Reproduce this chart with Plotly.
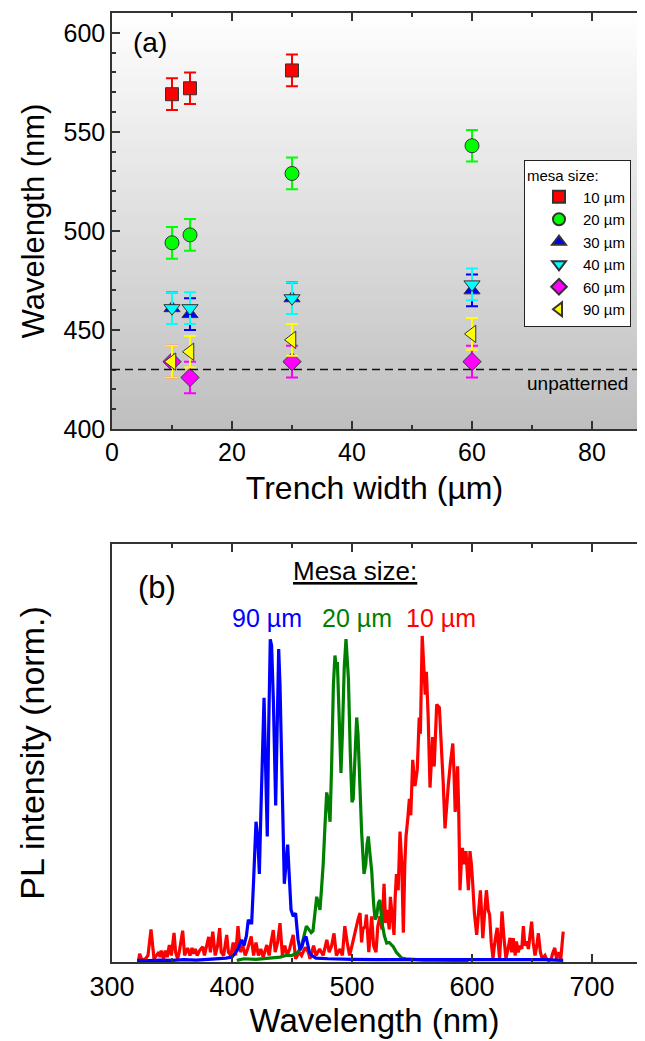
import plotly.graph_objects as go

# The page body has an 8px margin and the figure is fitted to the body width (645 - 16).
OFF = 8
W, H = 645 - 2 * OFF, 1041 - OFF

# ---------------- Panel (a) data ----------------
trench_width = [10, 13, 30, 60]
mesa_labels = ["10 µm", "20 µm", "30 µm", "40 µm", "60 µm", "90 µm"]
wl_10 = [569, 572, 581]
tw_10 = [10, 13, 30]
wl_20 = [494, 498, 529, 543]
wl_30 = [461, 458, 466, 470]
wl_40 = [461, 461, 466, 473]
wl_60 = [434, 426, 434, 434]
wl_90 = [434, 439, 445, 448]
err_a = 8
unpatterned = 430

# ---------------- Panel (b) data ----------------
red_wl = [322, 323, 325, 328, 330, 332.5, 335, 337, 339, 340, 341, 343, 344.4, 346, 347.8, 349.5, 351.7, 353, 354.7, 356,
          358.9, 360.5, 363, 365, 366.7, 368, 369.4, 371, 373, 375.6, 377, 380.6, 382, 384, 386, 388, 389.7, 391, 393, 395.6,
          397, 399, 401, 403, 405, 407, 409, 411, 413, 416, 418, 420, 422, 424, 426, 429, 431, 432.5, 434.4, 436,
          438, 440, 442, 444, 446, 448, 451, 453, 456, 458, 461, 463.6, 465, 468, 470, 473, 476, 479, 481, 483,
          485, 487, 490, 492, 494, 496, 498, 500, 502.5, 505, 506.7, 508, 509, 511, 512, 514, 516.4, 518, 520, 521.5,
          523.3, 525, 526.7, 528, 529.4, 531, 532, 533.5, 535, 536, 537, 538.5, 540, 541.5, 542.8, 544, 545, 546.5,
          547.8, 549, 550.6, 552.5, 554.4, 556, 557, 558.5, 559.3, 560, 561, 562, 563.5, 565, 566, 567.2, 568.5, 570,
          570.6, 572.8, 574.7, 576, 577.5, 579, 580.3, 582, 584, 585, 586, 587, 588, 589, 590, 591, 592, 593.5,
          595, 596, 597, 598.3, 599.5, 600.6, 602, 603.9, 605.5, 607, 608, 609, 610.5, 612, 613.5, 614.7, 616, 617.5,
          619, 621, 622, 623, 624, 625, 626.5, 628.3, 630, 631.7, 633, 634.4, 636, 637, 638.5, 640, 641.5, 642.8,
          644, 645.5, 647, 648, 649.7, 651, 652.5, 654, 655.3, 657, 658.5, 660.8, 662, 664, 666, 667.5, 669, 670.5,
          672.5, 674, 676]
red_int = [0.0, 0.025, 0.005, 0.01, 0.02, 0.10, 0.01, 0.02, 0.03, 0.015, 0.035, 0.01, 0.035, 0.015, 0.052, 0.02, 0.089, 0.03, 0.01, 0.03,
           0.096, 0.02, 0.043, 0.02, 0.043, 0.025, 0.04, 0.02, 0.035, 0.047, 0.02, 0.077, 0.03, 0.093, 0.02, 0.05, 0.104, 0.03, 0.02, 0.083,
           0.03, 0.02, 0.06, 0.02, 0.11, 0.03, 0.05, 0.02, 0.04, 0.078, 0.02, 0.06, 0.02, 0.04, 0.015, 0.052, 0.02, 0.06, 0.098, 0.03,
           0.06, 0.119, 0.02, 0.05, 0.02, 0.04, 0.083, 0.01, 0.03, 0.02, 0.045, 0.03, 0.01, 0.05, 0.02, 0.04, 0.02, 0.068, 0.03, 0.05,
           0.088, 0.02, 0.04, 0.02, 0.11, 0.06, 0.02, 0.05, 0.093, 0.13, 0.15, 0.06, 0.10, 0.11, 0.145, 0.03, 0.14, 0.05, 0.03, 0.11,
           0.14, 0.10, 0.24, 0.12, 0.16, 0.10, 0.20, 0.15, 0.083, 0.20, 0.27, 0.22, 0.40, 0.30, 0.09, 0.30, 0.385, 0.44,
           0.50, 0.45, 0.62, 0.54, 0.59, 0.75, 0.70, 1.0, 0.94, 0.87, 0.82, 0.89, 0.75, 0.535, 0.60, 0.69, 0.60, 0.74,
           0.79, 0.78, 0.66, 0.55, 0.41, 0.50, 0.545, 0.61, 0.67, 0.58, 0.46, 0.52, 0.60, 0.45, 0.22, 0.30, 0.35, 0.30,
           0.34, 0.28, 0.22, 0.34, 0.30, 0.24, 0.15, 0.083, 0.17, 0.22, 0.15, 0.073, 0.15, 0.22, 0.16, 0.145, 0.06, 0.012,
           0.06, 0.105, 0.05, 0.01, 0.08, 0.155, 0.08, 0.01, 0.04, 0.074, 0.03, 0.073, 0.02, 0.063, 0.03, 0.05, 0.04, 0.11,
           0.05, 0.063, 0.04, 0.08, 0.124, 0.06, 0.02, 0.05, 0.088, 0.03, 0.01, 0.02, 0.01, 0.005, 0.01, 0.03, 0.043, 0.01,
           0.03, 0.01, 0.093]

green_wl = [404, 410, 420, 430, 440, 445, 450, 455, 458, 460, 462, 464, 466, 467.5, 469, 470.6, 472, 473.3, 474.5, 476,
            477.5, 478.9, 480, 481.7, 483, 484.5, 485.8, 487, 487.8, 489, 490.8, 492, 493.5, 495, 496, 497, 498.5, 500, 501, 502.5,
            503.9, 505, 506.7, 508, 510, 511.5, 512.5, 513.6, 515, 516.4, 518, 519.2, 520.5, 522, 523.3, 525, 527, 528.9, 531, 534.4,
            537, 541.4, 545, 550, 560, 570, 580, 590, 597]
green_int = [0.005, 0.01, 0.008, 0.012, 0.015, 0.02, 0.02, 0.03, 0.05, 0.08, 0.11, 0.10, 0.09, 0.095, 0.15, 0.20, 0.18, 0.16, 0.22, 0.30,
             0.42, 0.52, 0.50, 0.43, 0.60, 0.85, 0.94, 0.90, 0.92, 0.75, 0.58, 0.70, 0.90, 0.99, 0.94, 0.87, 0.65, 0.49, 0.50, 0.65,
             0.75, 0.70, 0.52, 0.40, 0.27, 0.30, 0.36, 0.385, 0.33, 0.28, 0.18, 0.13, 0.14, 0.18, 0.19, 0.12, 0.08, 0.058, 0.06, 0.047,
             0.03, 0.012, 0.01, 0.008, 0.006, 0.006, 0.005, 0.005, 0.004]

blue_wl = [321, 330, 340, 350, 360, 370, 380, 390, 395, 400, 403, 405, 408, 410, 412, 413.6, 415, 416.4, 418, 420,
           421.5, 422.8, 424, 425.5, 426.7, 428, 429.4, 430.5, 431.9, 433, 434.5, 436.4, 437.5, 438.9, 440, 441.4, 442.5, 443.6, 445, 446.4,
           447.5, 449.2, 451, 453, 455, 456.7, 458.5, 460, 461.7, 463, 464.5, 466.4, 470, 480, 490, 500, 520, 540, 560, 580,
           600, 620, 640, 660, 676]
blue_int = [0.005, 0.004, 0.006, 0.005, 0.007, 0.006, 0.008, 0.01, 0.012, 0.015, 0.03, 0.04, 0.068, 0.05, 0.08, 0.13, 0.12, 0.12, 0.25, 0.43,
            0.38, 0.27, 0.45, 0.70, 0.81, 0.60, 0.385, 0.70, 0.99, 0.97, 0.80, 0.48, 0.75, 0.96, 0.85, 0.61, 0.40, 0.24, 0.30, 0.36,
            0.28, 0.16, 0.14, 0.15, 0.07, 0.037, 0.05, 0.07, 0.078, 0.06, 0.03, 0.02, 0.012, 0.01, 0.008, 0.008, 0.007, 0.007, 0.006, 0.008,
            0.006, 0.007, 0.006, 0.007, 0.005]

spectra_labels = ["90 µm", "20 µm", "10 µm"]

FONT = "Liberation Sans, Arial, sans-serif"
AXC = "#333333"


def pfx(X):
    return (X - OFF) / W


def pfy(Y):
    return 1 - (Y - OFF) / H


fig = go.Figure()

# ---- panel (a) traces ----
series = [
    (tw_10, wl_10, "#ff0000", "square", 13),
    (trench_width, wl_20, "#00ff00", "circle", 14),
    (trench_width, wl_30, "#0000ff", "triangle-up", 14),
    (trench_width, wl_40, "#00ffff", "triangle-down", 14),
    (trench_width, wl_60, "#ff00ff", "diamond", 14),
    (trench_width, wl_90, "#ffff00", "triangle-left", 15),
]
for (xs, ys, col, sym, sz), name in zip(series, mesa_labels):
    fig.add_trace(go.Scatter(
        x=xs, y=ys, mode="markers", name=name,
        marker=dict(color=col, symbol=sym, size=sz, line=dict(color="#333333", width=1)),
        error_y=dict(type="constant", value=err_a, color=col, thickness=2, width=6),
        xaxis="x", yaxis="y",
    ))

# unpatterned reference line
fig.add_shape(type="line", xref="x domain", yref="y", x0=0, x1=1, y0=unpatterned, y1=unpatterned,
              line=dict(color="#111111", width=1.5, dash="8px,5px"))

# gradient background for panel (a) (overlapping bands to avoid seams)
n_bands = 70
top_c, bot_c = 254, 190
for i in range(n_bands):
    frac = (i + 0.5) / n_bands
    c = int(round(bot_c + (top_c - bot_c) * frac))
    y0 = 0 if i == 0 else (i - 0.5) / n_bands
    fig.add_shape(type="rect", xref="x domain", yref="y domain",
                  x0=0, x1=1, y0=y0, y1=(i + 1) / n_bands,
                  fillcolor=f"rgb({c},{c},{c})", line=dict(width=0), layer="below")

# ---- panel (b) traces ----
for xs, ys, col, name in [(red_wl, red_int, "#ff0000", "10 µm"),
                          (green_wl, green_int, "#008000", "20 µm"),
                          (blue_wl, blue_int, "#0000ff", "90 µm")]:
    fig.add_trace(go.Scatter(x=xs, y=ys, mode="lines", name=name, showlegend=False,
                             line=dict(color=col, width=3.2), xaxis="x2", yaxis="y2"))

annos = []


def add_text(text, X, Y, size, color="black"):
    annos.append(dict(text=text, x=pfx(X), y=pfy(Y), xref="paper", yref="paper", showarrow=False,
                      xanchor="center", yanchor="middle", font=dict(family=FONT, size=size, color=color)))


add_text("(a)", 150, 42, 28)
add_text("unpatterned", 577, 383, 19)
add_text("(b)", 157, 587, 31)
add_text("<u>Mesa size:</u>", 355, 571, 26)
label_x = [267, 357, 441]
label_c = ["#0000ff", "#008000", "#ff0000"]
for t, lx, lc in zip(spectra_labels, label_x, label_c):
    add_text(t, lx, 618, 25, lc)

axis_common = dict(showline=True, linecolor=AXC, linewidth=1.5, mirror="ticks", ticks="inside",
                   tickcolor=AXC, tickwidth=1.5, showgrid=False, zeroline=False, automargin=False,
                   tickfont=dict(family=FONT, size=25, color="black"))

x_right = OFF + W  # screen x of the figure's right edge
fig.update_layout(
    width=W, height=H,
    margin=dict(l=0, r=0, t=0, b=0, autoexpand=False),
    paper_bgcolor="white", plot_bgcolor="white",
    font=dict(family=FONT, color="black"),
    annotations=annos,
    xaxis=dict(axis_common, domain=[pfx(112), 1], range=[0, (x_right - 112) / 6], anchor="y",
               tick0=0, dtick=20, ticklen=8,
               minor=dict(dtick=10, ticks="inside", ticklen=4, tickcolor=AXC, tickwidth=1.5),
               title=dict(text="Trench width (µm)", font=dict(family=FONT, size=32), standoff=12)),
    yaxis=dict(axis_common, domain=[pfy(429), pfy(13)], range=[400, 610], anchor="x", mirror=False,
               tick0=400, dtick=50, ticklen=8,
               minor=dict(dtick=10, ticks="inside", ticklen=4, tickcolor=AXC, tickwidth=1.5),
               title=dict(text="Wavelength (nm)", font=dict(family=FONT, size=31), standoff=10)),
    xaxis2=dict(axis_common, domain=[pfx(112), 1], range=[300, 300 + (x_right - 112) / 1.2], anchor="y2",
                tick0=300, dtick=100, ticklen=8, tickfont=dict(family=FONT, size=27, color="black"),
                minor=dict(dtick=50, ticks="inside", ticklen=4, tickcolor=AXC, tickwidth=1.5),
                title=dict(text="Wavelength (nm)", font=dict(family=FONT, size=33), standoff=6)),
    yaxis2=dict(showline=True, linecolor=AXC, linewidth=1.5, mirror=False, ticks="", showticklabels=False,
                showgrid=False, zeroline=False, automargin=False,
                domain=[pfy(962), pfy(544)], range=[0, 1.282], anchor="x2",
                title=dict(text="PL intensity (norm.)", font=dict(family=FONT, size=34), standoff=55)),
    legend=dict(x=pfx(524), y=pfy(160), xanchor="left", yanchor="top",
                bgcolor="white", bordercolor="#222222", borderwidth=1,
                font=dict(family=FONT, size=15, color="black"),
                title=dict(text="mesa size:", font=dict(family=FONT, size=15), side="top"),
                itemsizing="constant", tracegroupgap=0, indentation=10, itemwidth=38),
)

fig.write_html("out.html")
